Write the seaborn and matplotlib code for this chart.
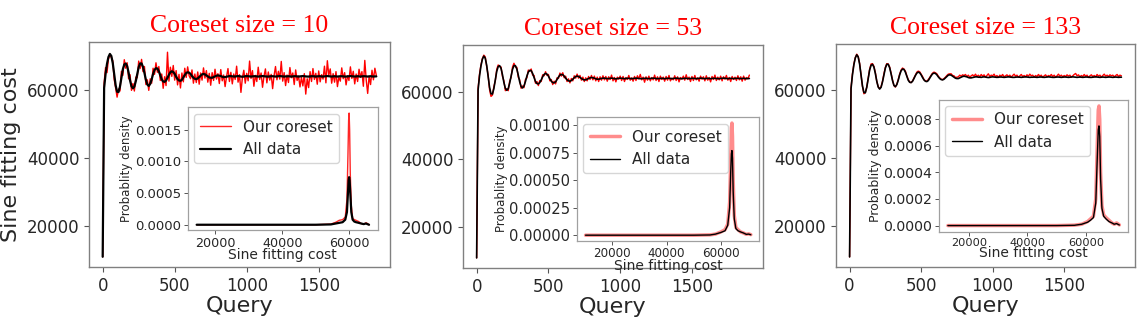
import matplotlib
matplotlib.use("Agg")
import matplotlib.pyplot as plt
import seaborn as sns
import numpy as np
import pandas as pd

# ---------------- data ----------------
query = list(range(0, 1901, 10))

all_data_cost = [
    10900, 60500, 64600, 67600, 69600, 70500, 69900, 67800, 64600, 61300,
    59400, 59300, 60900, 63500, 66000, 67400, 67700, 66900, 65000, 62700,
    61000, 60400, 60900, 62500, 64600, 66600, 67700, 67700, 66700, 64900,
    62900, 61500, 61100, 61700, 63000, 64600, 65800, 66300, 66200, 65400,
    64200, 63000, 62400, 62300, 62700, 63500, 64400, 65100, 65400, 65200,
    64600, 63800, 63100, 62700, 62600, 62900, 63600, 64300, 64900, 65100,
    65000, 64600, 64000, 63500, 63200, 63100, 63300, 63700, 64100, 64500,
    64600, 64500, 64200, 63900, 63600, 63500, 63500, 63700, 63900, 64100,
    64200, 64100, 64000, 63800, 63700, 63700, 63800, 63900, 64000, 64000,
    63900,
    63900, 63850, 63950, 64000, 63950, 63850, 63800, 63850, 63950, 64000,
    63950, 63900, 63850, 63900, 63950, 63950, 63900, 63850, 63900, 63950,
    64000, 63950, 63900, 63850, 63850, 63900, 63950, 63950, 63900, 63850,
    63900, 63950, 64000, 63950, 63900, 63850, 63900, 63900, 63950, 63900,
    63850, 63900, 63950, 63950, 63900, 63850, 63900, 63950, 64000, 63950,
    63900, 63850, 63850, 63900, 63950, 63950, 63900, 63850, 63900, 63950,
    63950, 63900, 63850, 63900, 63950, 64000, 63950, 63900, 63850, 63900,
    63950, 63900, 63850, 63900, 63950, 63950, 63900, 63850, 63850, 63900,
    63950, 64000, 63950, 63900, 63850, 63900, 63950, 63900, 63850, 63900,
    63950, 63950, 63900, 63850, 63900, 63950, 63900, 63850, 63900, 63900,
]

coreset10_cost = [
    10900, 62000, 66500, 65000, 69000, 70200, 69500, 68500, 63000, 60500,
    57800, 60200, 59600, 65400, 64200, 68800, 66300, 67900, 63200, 64400,
    59800, 61800, 59600, 63700, 63500, 68400, 66200, 68900, 65300, 66800,
    61500, 62900, 59800, 63200, 61900, 66300, 64500, 67900, 65100, 66800,
    62700, 64600, 60400, 63800, 61200, 71000, 62500, 66600, 63900, 67100,
    62800, 65600, 61400, 64500, 60500, 64900, 62300, 66300, 63600, 66700,
    64100, 63200, 65800, 61900, 64600, 62100, 65200, 61600, 64900, 62800,
    66400, 63400, 65600, 62200, 64800, 61300, 65000, 62700, 66000, 63100,
    64700, 61800, 65900, 62600, 64300, 60900, 63800, 66200, 62400, 65100,
    61700, 64600, 63000, 66900, 62200, 64400, 59200, 63500, 65700, 61900,
    64800, 62600, 68400, 63300, 65600, 61000, 64200, 62400, 66600, 63000,
    64900, 60700, 63900, 66100, 62000, 65200, 62800, 64500, 60300, 64100,
    66800, 62900, 65400, 63100, 68300, 62500, 65000, 61200, 64300, 62100,
    66500, 63500, 64900, 61500, 65800, 62700, 64000, 60800, 63600, 61100,
    64700, 58700, 63200, 60600, 65300, 62400, 66200, 63000, 64800, 61600,
    65500, 62300, 64400, 63100, 66900, 62000, 68500, 64200, 66100, 61900,
    64700, 62200, 65300, 60900, 63700, 62500, 66400, 63200, 65000, 61400,
    64100, 62700, 66700, 63300, 65400, 61700, 64600, 62400, 66000, 63600,
    65300, 61000, 68600, 62800, 58900, 64000, 61500, 65700, 62900, 66300,
    64200,
]

coreset53_cost = [
    10900, 61000, 65200, 67900, 69800, 70800, 70300, 67400, 64900, 60600,
    58600, 59000, 61500, 63200, 66600, 67900, 67400, 67300, 64500, 63200,
    60300, 60900, 60300, 63100, 64200, 67300, 68400, 67300, 67200, 64300,
    63500, 61000, 61700, 61200, 63600, 64100, 66400, 66000, 66700, 64900,
    64800, 62500, 63000, 61800, 63300, 63000, 65000, 64700, 65900, 64800,
    65100, 63200, 63600, 62100, 63100, 62300, 64100, 63900, 65500, 64600,
    65600, 64100, 64600, 63000, 63800, 62600, 63900, 63200, 64700, 64000,
    65200, 64000, 64800, 63400, 64300, 63000, 64100, 63200, 64500, 63600,
    64800, 63500, 64600, 63200, 64300, 63000, 64400, 63400, 64700, 63500,
    64500, 63100, 64400, 63600, 64900, 63200, 64200, 62900, 64300, 63700,
    64600, 63300, 64500, 63000, 64200, 63600, 64800, 63400, 64100, 63100,
    64500, 63300, 64700, 63800, 65100, 63500, 64300, 62800, 64400, 63400,
    64600, 63200, 64200, 63500, 64900, 63300, 64400, 63000, 64600, 63600,
    64300, 63100, 64500, 63400, 64800, 63200, 64000, 63500, 64700, 63300,
    64400, 62900, 64200, 63700, 64600, 63400, 65000, 63600, 64300, 63000,
    64500, 63300, 64800, 63500, 64100, 63100, 64600, 63700, 64400, 63200,
    64700, 63400, 64200, 62900, 64500, 63600, 64900, 63300, 64300, 63500,
    64600, 63200, 64400, 63700, 64800, 63400, 64200, 63000, 64500, 63600,
    64300, 63300, 64700, 63500, 64400, 63100, 64600, 63400, 64200, 63800,
    64900,
]

coreset133_cost = [
    10900, 60800, 64900, 67800, 69700, 70700, 70000, 68000, 64600, 61200,
    59000, 59400, 61000, 63700, 66200, 67800, 67900, 67100, 65300, 62700,
    61100, 60500, 61100, 62700, 64900, 66800, 67900, 67800, 66900, 65100,
    63100, 61400, 61000, 61800, 63200, 64800, 66000, 66600, 66300, 65700,
    64300, 63200, 62500, 62300, 62800, 63700, 64500, 65400, 65700, 65500,
    64800, 64100, 63200, 62800, 62700, 63200, 63800, 64500, 65100, 65400,
    65200, 64900, 64200, 63700, 63300, 63200, 63500, 63900, 64400, 64800,
    64900, 64900, 64400, 64300, 63800, 63900, 64000, 64500, 64200, 64600,
    64400, 64700, 64100, 64500, 63900, 64300, 64600, 64200, 64800, 64100,
    64500, 64000, 64700, 64200, 64600, 63900, 64400, 64900, 64100, 64500,
    64300, 64800, 64000, 64400, 63800, 64500, 64200, 64700, 64000, 64300,
    64600, 64100, 64500, 63900, 64400, 64800, 64200, 64500, 63900, 64300,
    64700, 64100, 64400, 64000, 64600, 64200, 64800, 64300, 64500, 63900,
    64400, 64100, 64700, 64200, 64500, 63800, 64300, 64600, 64000, 64400,
    64200, 64700, 64100, 64500, 63900, 64300, 64800, 64200, 64500, 64000,
    64400, 64100, 64600, 64200, 64500, 63900, 64300, 64700, 65000, 64300,
    64600, 64000, 64400, 64100, 64700, 64200, 64500, 63800, 64300, 64600,
    64100, 64400, 64000, 64700, 64200, 64500, 63900, 64400, 64800, 64200,
    64500, 64100, 64600, 64300, 64500, 64000, 64400, 64700, 64100, 64500,
    64300,
]

# density curves (inset) : x positions and densities
dens1_x = [14400, 20000, 30000, 40000, 50000, 54500, 56000, 57000, 58000, 58800,
           59300, 59600, 59800, 59950, 60100, 60300, 60600, 61000, 61500, 62000,
           62800, 63500, 64300, 65000, 65400, 65900]
dens1_core = [0, 0, 0, 0, 0, 0.00001, 0.00004, 0.00007, 0.00008, 0.00012,
              0.0004, 0.0011, 0.00165, 0.00176, 0.0015, 0.0008, 0.0003, 0.0001, 0.00008, 0.00007,
              0.00005, 0.00002, 0.00001, 0.00003, 0.00002, 0.0]
dens1_all = [0, 0, 0, 0, 0, 0.000005, 0.00002, 0.00003, 0.00004, 0.00008,
             0.0002, 0.0005, 0.0007, 0.00075, 0.0007, 0.0005, 0.0002, 0.00008, 0.00005, 0.00004,
             0.00003, 0.00002, 0.00001, 0.00002, 0.00001, 0.0]

dens2_x = [10200, 20000, 30000, 40000, 50000, 56000, 58000, 60000, 61500, 62500,
           63200, 63600, 63850, 64050, 64250, 64500, 64900, 65500, 66300, 67200,
           68300, 69300, 70200, 71000]
dens2_core = [0, 0, 0, 0, 0, 0.000003, 0.00001, 0.00003, 0.00005, 0.0001,
              0.0003, 0.0007, 0.00098, 0.00102, 0.0009, 0.0005, 0.00018, 0.00007, 0.00005, 0.00003,
              0.00002, 0.000008, 0.000012, 0.000005]
dens2_all = [0, 0, 0, 0, 0, 0.000002, 0.00001, 0.000025, 0.00004, 0.00009,
             0.00025, 0.00058, 0.00074, 0.00077, 0.0007, 0.0004, 0.00015, 0.00006, 0.00004, 0.00003,
             0.00002, 0.000008, 0.00001, 0.000004]

dens3_x = [12860, 20000, 30000, 40000, 50000, 56000, 58500, 60500, 61500, 62500,
           63300, 63800, 64150, 64400, 64650, 64950, 65400, 66000, 66800, 67800,
           68800, 69600, 70400, 71360]
dens3_core = [0, 0, 0, 0, 0, 0.000003, 0.00001, 0.00003, 0.00005, 0.00007,
              0.0002, 0.0006, 0.00087, 0.0009, 0.0008, 0.0004, 0.00015, 0.00008, 0.00006, 0.00004,
              0.00002, 0.00001, 0.00002, 0.000005]
dens3_all = [0, 0, 0, 0, 0, 0.000002, 0.00001, 0.000025, 0.00004, 0.00006,
             0.00017, 0.0005, 0.00072, 0.00075, 0.00067, 0.00035, 0.00013, 0.00007, 0.00005, 0.00003,
             0.00002, 0.00001, 0.000015, 0.000004]

titles = ["Coreset size = 10", "Coreset size = 53", "Coreset size = 133"]
main_xticks = [0, 500, 1000, 1500]
main_yticks = [20000, 40000, 60000]
inset_xticks = [20000, 40000, 60000]
inset_yticks = [
    [0.0, 0.0005, 0.0010, 0.0015],
    [0.0, 0.00025, 0.0005, 0.00075, 0.001],
    [0.0, 0.0002, 0.0004, 0.0006, 0.0008],
]

# ---------------- style ----------------
sns.set_style("white")
plt.rcParams["font.family"] = ["DejaVu Sans"]
plt.rcParams["xtick.bottom"] = True
plt.rcParams["ytick.left"] = True

fig = plt.figure(figsize=(11.42, 3.2), dpi=100)

main_pos = [
    [89 / 1142, 1 - 267 / 320, 301 / 1142, 225 / 320],
    [463 / 1142, 1 - 268 / 320, 300 / 1142, 223 / 320],
    [836 / 1142, 1 - 267 / 320, 299 / 1142, 223 / 320],
]
inset_pos = [
    [0.329, 0.163, 0.630, 0.546],
    [0.381, 0.122, 0.606, 0.553],
    [0.3455, 0.159, 0.631, 0.590],
]
inset_xt_size = [9.2, 8.6, 8.2]
inset_yt_size = [9.5, 10.6, 10.2]
inset_ylab_size = [8.5, 8.5, 9.0]

red_series = [coreset10_cost, coreset53_cost, coreset133_cost]
dens_x = [dens1_x, dens2_x, dens3_x]
dens_core = [dens1_core, dens2_core, dens3_core]
dens_all = [dens1_all, dens2_all, dens3_all]

for i in range(3):
    ax = fig.add_axes(main_pos[i])
    df = pd.DataFrame({"Query": query, "core": red_series[i], "all": all_data_cost})
    sns.lineplot(data=df, x="Query", y="core", ax=ax, color="red", lw=1.0, legend=False)
    sns.lineplot(data=df, x="Query", y="all", ax=ax, color="black",
                 lw=1.6 if i == 0 else 1.2, legend=False)
    ax.set_xticks(main_xticks)
    ax.set_yticks(main_yticks)
    ax.tick_params(labelsize=12, length=3.5, width=0.8, color="#555555", direction="out")
    ax.set_xlabel("Query", fontsize=16, labelpad=1)
    if i == 0:
        ax.set_ylabel("Sine fitting cost", fontsize=16)
    else:
        ax.set_ylabel("")
    for s in ax.spines.values():
        s.set_color("#808080")
        s.set_linewidth(1.0)
    ax.set_title(titles[i], color="red", fontsize=18.5, family="Liberation Serif", pad=7)

    ins = ax.inset_axes(inset_pos[i])
    ddf = pd.DataFrame({"cost": dens_x[i], "core": dens_core[i], "all": dens_all[i]})
    if i == 0:
        sns.lineplot(data=ddf, x="cost", y="core", ax=ins, color="red", lw=1.0, alpha=0.85,
                     label="Our coreset")
        sns.lineplot(data=ddf, x="cost", y="all", ax=ins, color="black", lw=1.6,
                     label="All data")
    else:
        sns.lineplot(data=ddf, x="cost", y="core", ax=ins, color="red", lw=2.5, alpha=0.45,
                     label="Our coreset")
        sns.lineplot(data=ddf, x="cost", y="all", ax=ins, color="black", lw=1.0,
                     label="All data")
    ins.set_xticks(inset_xticks)
    ins.set_yticks(inset_yticks[i])
    ins.tick_params(axis="x", labelsize=inset_xt_size[i], length=3, width=0.7,
                    color="#555555", pad=1.5)
    ins.tick_params(axis="y", labelsize=inset_yt_size[i], length=3, width=0.7,
                    color="#555555", pad=2)
    ins.set_xlabel("Sine fitting cost", fontsize=10, labelpad=-1)
    ins.set_ylabel("Probablity density", fontsize=inset_ylab_size[i], labelpad=1)
    for s in ins.spines.values():
        s.set_color("#a0a0a0")
        s.set_linewidth(0.9)
    ins.legend(loc="upper left", fontsize=11, frameon=True, borderaxespad=0.4)

fig.savefig("out.png", dpi=100)
